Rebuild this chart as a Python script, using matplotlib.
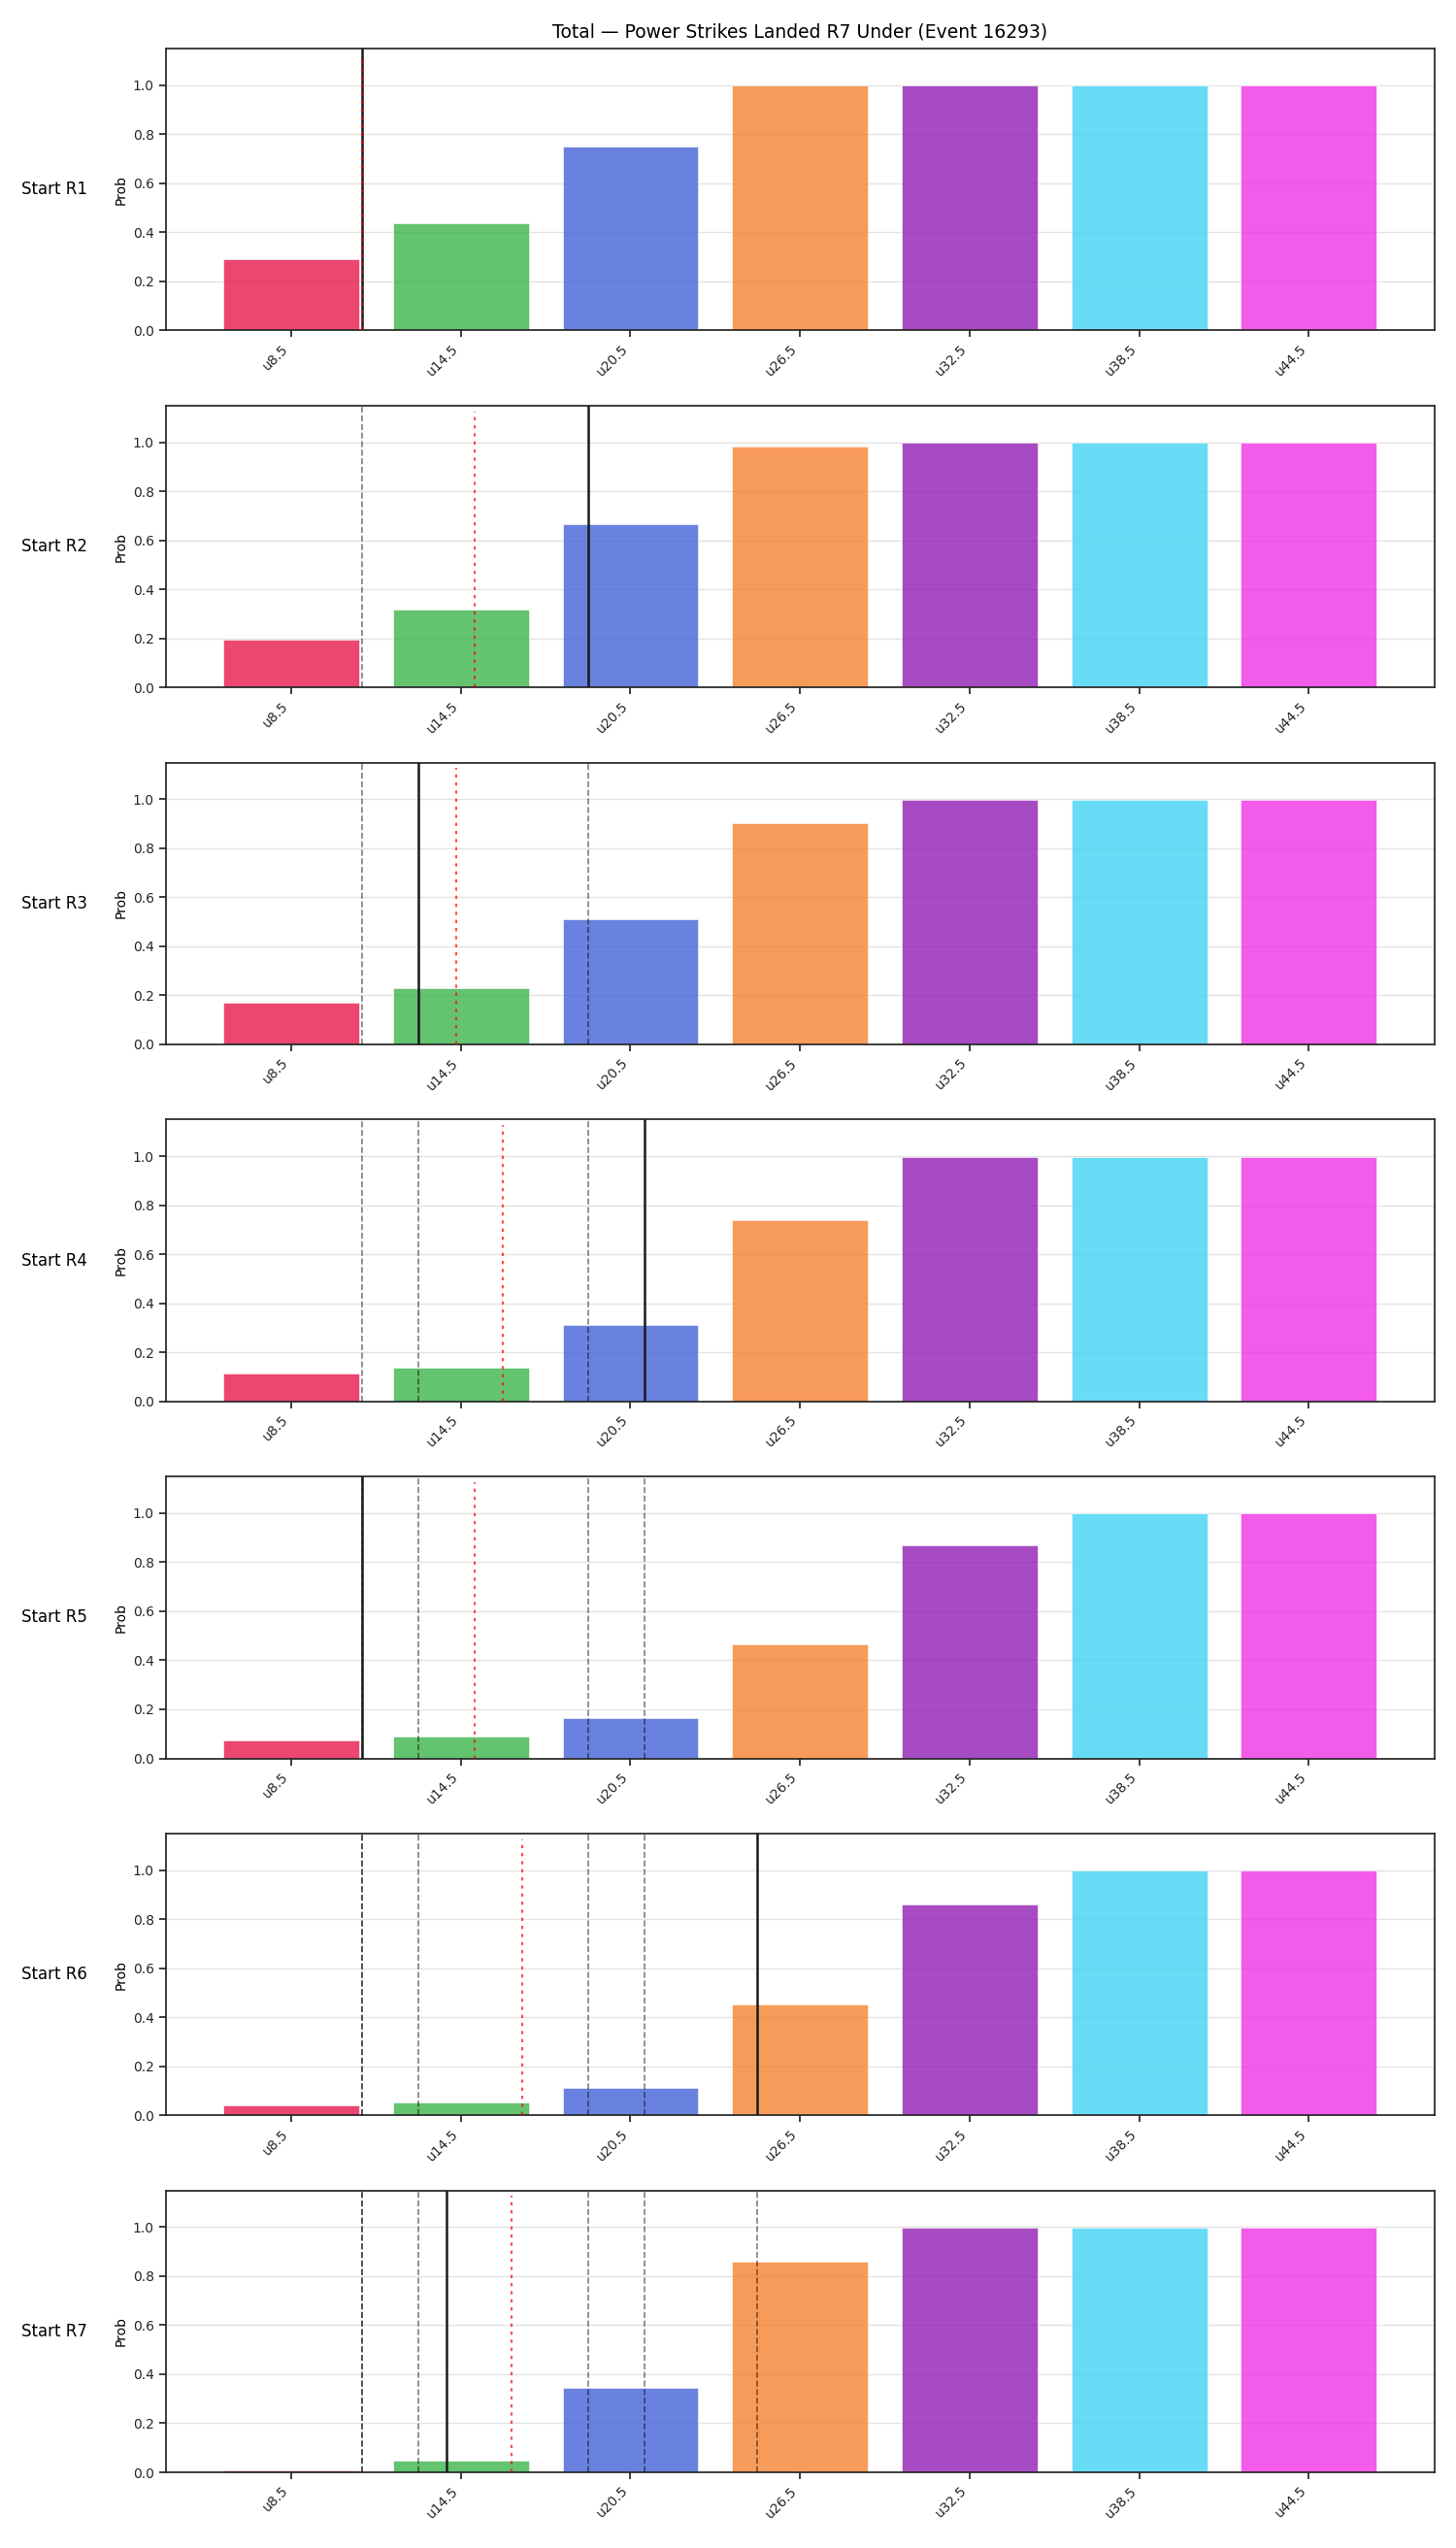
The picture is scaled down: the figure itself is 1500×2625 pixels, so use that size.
import numpy as np
import matplotlib
matplotlib.use("Agg")
import matplotlib.pyplot as plt

# ---- data ----
thresholds = [8.5, 14.5, 20.5, 26.5, 32.5, 38.5, 44.5]
tick_labels = ["u8.5", "u14.5", "u20.5", "u26.5", "u32.5", "u38.5", "u44.5"]
round_names = ["Start R1", "Start R2", "Start R3", "Start R4", "Start R5", "Start R6", "Start R7"]

prob_r1 = [0.289, 0.436, 0.749, 0.998, 0.998, 0.998, 0.998]
prob_r2 = [0.194, 0.316, 0.667, 0.984, 0.998, 0.998, 0.998]
prob_r3 = [0.172, 0.228, 0.511, 0.903, 0.998, 0.998, 0.998]
prob_r4 = [0.112, 0.136, 0.310, 0.738, 0.998, 0.998, 0.998]
prob_r5 = [0.073, 0.089, 0.165, 0.466, 0.868, 0.998, 0.998]
prob_r6 = [0.041, 0.053, 0.112, 0.453, 0.860, 0.998, 0.998]
prob_r7 = [0.008, 0.048, 0.343, 0.860, 0.998, 0.998, 0.998]
probs = [prob_r1, prob_r2, prob_r3, prob_r4, prob_r5, prob_r6, prob_r7]

# strikes landed in each round (solid line = current round, dashed = earlier rounds)
round_totals = [11, 19, 13, 21, 11, 25, 14]
# running average per round (red dotted line)
running_avg = [11.0, 15.0, 14.33, 16.0, 15.0, 16.67, 16.29]

bar_colors = ["#e6194b", "#3cb44b", "#4363d8", "#f58231", "#911eb4", "#42d4f4", "#f032e6"]
title = "Total \u2014 Power Strikes Landed R7 Under (Event 16293)"

# ---- style ----
plt.rcParams.update({
    "font.family": ["DejaVu Sans"],
    "font.size": 10,
    "axes.edgecolor": "#262626",
    "axes.linewidth": 1.25,
    "xtick.major.width": 1.25,
    "ytick.major.width": 1.25,
    "xtick.major.size": 5,
    "ytick.major.size": 5,
    "xtick.color": "#262626",
    "ytick.color": "#262626",
})

fig, axes = plt.subplots(7, 1, figsize=(15, 26.25), dpi=100)
fig.subplots_adjust(left=0.1138, right=0.9851, top=0.98095, bottom=0.02971, hspace=0.266)

idx = np.arange(len(thresholds))


def to_pos(v):
    return float(np.interp(v, thresholds, idx))


for r, ax in enumerate(axes):
    ax.bar(idx, probs[r], width=0.8, color=bar_colors, alpha=0.8,
           edgecolor="white", linewidth=0.5, zorder=2)
    ax.set_ylim(0, 1.15)
    ax.set_yticks([0.0, 0.2, 0.4, 0.6, 0.8, 1.0])
    ax.grid(axis="y", color="#e3e3e3", linewidth=1.0, zorder=0)
    ax.set_axisbelow(True)
    ax.set_xticks(idx)
    ax.set_xticklabels(tick_labels, rotation=45, ha="right")
    ax.set_ylabel("Prob")
    ax.text(-0.062, 0.5, round_names[r], transform=ax.transAxes,
            ha="right", va="center", fontsize=12)

    for p in range(r):
        ax.axvline(to_pos(round_totals[p]), color="black", alpha=0.5,
                   linestyle="--", linewidth=1.2, zorder=3)
    ax.axvline(to_pos(round_totals[r]), color="#1a1a1a", linewidth=1.8, zorder=4)
    ax.axvline(to_pos(running_avg[r]), ymax=0.98, color="red", alpha=0.7,
               linestyle=(0, (1.6, 2.4)), linewidth=1.5, zorder=5)

axes[0].set_title(title, fontsize=13.5, pad=8)

fig.savefig("out.png", dpi=100)
